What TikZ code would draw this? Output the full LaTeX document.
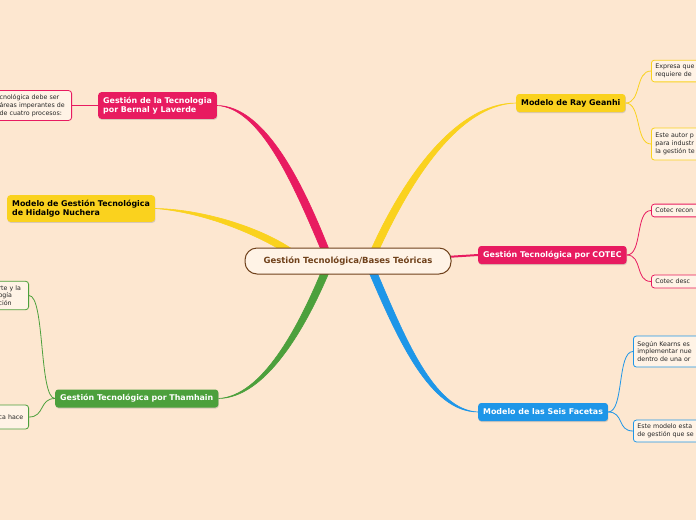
\documentclass[tikz,border=0pt]{standalone}
\usepackage{fontspec}
\setmainfont{DejaVu Sans}
\usepackage{xcolor}
\usetikzlibrary{positioning,shadows}

\definecolor{bgpeach}{RGB}{253,231,208}
\definecolor{lightpeach}{RGB}{255,243,230}
\definecolor{rootbrown}{RGB}{112,66,28}
\definecolor{mmpink}{RGB}{232,27,96}
\definecolor{mmyellow}{RGB}{250,210,30}
\definecolor{mmgreen}{RGB}{76,160,60}
\definecolor{mmblue}{RGB}{30,150,232}

\begin{document}
\begin{tikzpicture}[x=1pt, y=-1pt,
    root/.style={rectangle, rounded corners=12pt, draw=rootbrown, line width=1pt, fill=lightpeach, text=rootbrown, minimum width=206pt, minimum height=26pt, font=\fontsize{8.5}{10}\selectfont\bfseries},
    topic/.style={rectangle, rounded corners=3pt, align=left, inner xsep=5pt, inner ysep=4.5pt, minimum height=18pt, font=\fontsize{7.9}{9.5}\selectfont\bfseries, drop shadow={shadow xshift=0.5pt, shadow yshift=-1pt, opacity=0.3}},
    note/.style={rectangle, rounded corners=3pt, draw, line width=0.8pt, fill=lightpeach, align=left, inner xsep=4pt, inner ysep=4pt, text=black!85, font=\fontsize{6.3}{7.8}\selectfont},
    branch/.style={line width=0.6pt},
    twig/.style={line width=0.8pt}]

    \fill [bgpeach, use as bounding box] (0,0) rectangle (696,520);
    \clip (0,0) rectangle (696,520);

    \coordinate (hub) at (348,261);

    \node [topic, anchor=west, fill=mmpink, text=white] (bernal) at (98,105.5) {Gestión de la Tecnologia\\por Bernal y Laverde};
    \node [topic, anchor=west, fill=mmyellow, text=black] (hidalgo) at (7,208.5) {Modelo de Gestión Tecnológica\\de Hidalgo Nuchera};
    \node [topic, anchor=west, fill=mmgreen, text=white] (thamhain) at (55,398.5) {Gestión Tecnológica por Thamhain};
    \node [topic, anchor=west, fill=mmyellow, text=black] (ray) at (516,103) {Modelo de Ray Geanhi};
    \node [topic, anchor=west, fill=mmpink, text=white] (cotec) at (478,255) {Gestión Tecnológica por COTEC};
    \node [topic, anchor=west, fill=mmblue, text=white] (facetas) at (478,412) {Modelo de las Seis Facetas};

    \node [note, draw=mmpink, anchor=east, text width=68pt] (bernalnote) at (72,105.5) {cnológica debe ser\\áreas imperantes de\\de cuatro procesos:};
    \node [note, draw=mmgreen, anchor=east, text width=26pt] (thamnote1) at (29,295.5) {rte y la\\ogía\\ción};
    \node [note, draw=mmgreen, anchor=east, text width=26pt, minimum height=24pt] (thamnote2) at (29,417) {ca hace};
    \node [note, draw=mmyellow, anchor=west, text width=60pt] (raynote1) at (651,71) {Expresa que\\requiere de};
    \node [note, draw=mmyellow, anchor=west, text width=60pt, minimum height=32pt] (raynote2) at (651,144) {Este autor p\\para industr\\la gestión te};
    \node [note, draw=mmpink, anchor=west, text width=60pt] (cotecnote1) at (651,210.5) {Cotec recon};
    \node [note, draw=mmpink, anchor=west, text width=60pt] (cotecnote2) at (651,281.5) {Cotec desc};
    \node [note, draw=mmblue, anchor=west, text width=70pt, minimum height=31pt] (facnote1) at (633,351.5) {Según Kearns es\\implementar nue\\dentro de una or};
    \node [note, draw=mmblue, anchor=west, text width=70pt] (facnote2) at (633,431) {Este modelo esta\\de gestión que se};

    \draw [twig, mmpink] (bernal.west) -- (bernalnote.east);
    \draw [twig, mmgreen] (thamhain.west) .. controls +(-16,0) and +(16,0) .. (thamnote1.east);
    \draw [twig, mmgreen] (thamhain.west) .. controls +(-16,0) and +(16,0) .. (thamnote2.east);
    \draw [twig, mmyellow] (ray.east) .. controls +(16,0) and +(-16,0) .. (raynote1.west);
    \draw [twig, mmyellow] (ray.east) .. controls +(16,0) and +(-16,0) .. (raynote2.west);
    \draw [twig, mmpink] (cotec.east) .. controls +(16,0) and +(-16,0) .. (cotecnote1.west);
    \draw [twig, mmpink] (cotec.east) .. controls +(16,0) and +(-16,0) .. (cotecnote2.west);
    \draw [twig, mmblue] (facetas.east) .. controls +(16,0) and +(-16,0) .. (facnote1.west);
    \draw [twig, mmblue] (facetas.east) .. controls +(16,0) and +(-16,0) .. (facnote2.west);

    \filldraw [branch, mmpink] (bernal.east) .. controls (265,106) and (303,183) .. ([xshift=-18pt,yshift=9pt]hub)
        -- ([xshift=-26pt,yshift=9pt]hub) .. controls (294,186) and (261,108) .. (bernal.east) -- cycle;
    \filldraw [branch, mmyellow] (hidalgo.east) .. controls (200,209) and (258,226) .. ([xshift=-56pt,yshift=12pt]hub)
        -- ([xshift=-62pt,yshift=8pt]hub) .. controls (250,231) and (200,212) .. (hidalgo.east) -- cycle;
    \filldraw [branch, mmgreen] (thamhain.east) .. controls (265,398) and (305,330) .. ([xshift=-18pt,yshift=-9pt]hub)
        -- ([xshift=-26pt,yshift=-9pt]hub) .. controls (298,328) and (262,396) .. (thamhain.east) -- cycle;
    \filldraw [branch, mmyellow] (ray.west) .. controls (455,103) and (402,180) .. ([xshift=22pt,yshift=9pt]hub)
        -- ([xshift=30pt,yshift=9pt]hub) .. controls (410,182) and (458,105) .. (ray.west) -- cycle;
    \filldraw [branch, mmblue] (facetas.west) .. controls (430,412) and (398,340) .. ([xshift=20pt,yshift=-9pt]hub)
        -- ([xshift=28pt,yshift=-9pt]hub) .. controls (405,338) and (434,410) .. (facetas.west) -- cycle;
    \draw [mmpink, line width=2pt] ([xshift=98pt,yshift=4pt]hub) -- (cotec.west);

    \node [root] (root) at (hub) {Gestión Tecnológica/Bases Teóricas};
\end{tikzpicture}
\end{document}
